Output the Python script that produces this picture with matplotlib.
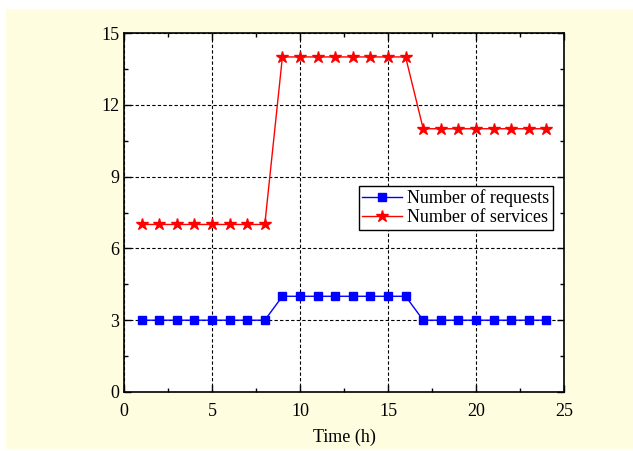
import matplotlib
matplotlib.use('Agg')
import matplotlib.pyplot as plt
from matplotlib.patches import Rectangle

# heures et nombres de requetes / services
heures = list(range(1, 25))
requetes = [3]*8 + [4]*8 + [3]*8
services = [7]*8 + [14]*8 + [11]*8

plt.rcParams['font.family'] = ['Liberation Serif', 'DejaVu Serif']

fig = plt.figure(figsize=(6.33, 4.51), dpi=100)
fig.patch.set_facecolor('white')
# fond jaune pale
fig.patches.append(Rectangle((6/633, 2/451), 627/633, 440/451, transform=fig.transFigure,
                             facecolor='#fffde0', edgecolor='none', zorder=-10))

ax = fig.add_axes([124/633, 59/451, 440/633, 359/451])
ax.set_facecolor('white')

ax.plot(heures, requetes, '-s', color='blue', markersize=6, linewidth=1,
        label='Number of requests', zorder=3)
ax.plot(heures, services, '-*', color='red', markersize=9, linewidth=1,
        label='Number of services', zorder=3)

ax.set_xlim(0, 25)
ax.set_ylim(0, 15)
ax.set_xticks([0, 5, 10, 15, 20, 25])
ax.set_yticks([0, 3, 6, 9, 12, 15])
ax.set_xticks([2.5, 7.5, 12.5, 17.5, 22.5], minor=True)
ax.set_yticks([1.5, 4.5, 7.5, 10.5, 13.5], minor=True)
ax.tick_params(which='both', direction='in', top=True, right=True, labelsize=13, width=1)
ax.tick_params(which='major', length=5)
ax.tick_params(which='minor', length=3)
ax.tick_params(axis='x', which='major', pad=8)
ax.grid(True, which='major', linestyle=(0, (3, 2)), color='black', linewidth=0.8)
for s in ax.spines.values():
    s.set_linewidth(1.2)

ax.set_xlabel('Time (h)', fontsize=13, labelpad=6)

leg = ax.legend(loc='upper right', bbox_to_anchor=(0.975, 0.574), fontsize=13,
                fancybox=False, framealpha=1, edgecolor='black',
                borderpad=0.2, labelspacing=0.1, handlelength=2.2, handletextpad=0.3,
                borderaxespad=0)
leg.get_frame().set_linewidth(1)

fig.savefig('out.png', dpi=100, facecolor=fig.get_facecolor())
